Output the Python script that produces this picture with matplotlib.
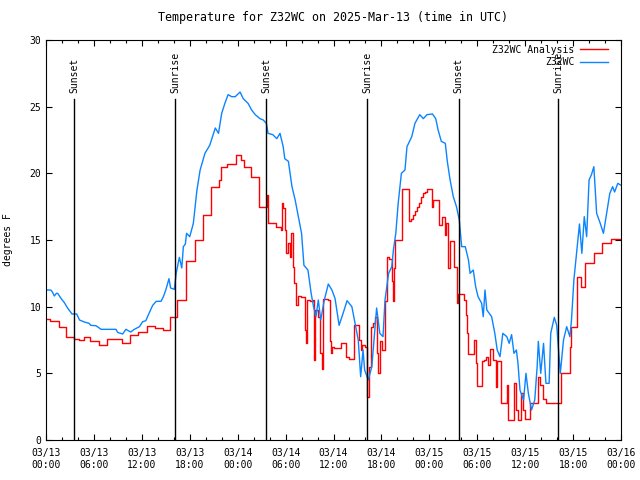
import matplotlib
matplotlib.use("Agg")
import matplotlib.pyplot as plt
import matplotlib.dates as mdates
from datetime import datetime, timedelta

plt.rcParams["font.family"] = "DejaVu Sans Mono"
plt.rcParams["font.size"] = 7

start = datetime(2025, 3, 13)

# Z32WC Analysis (step values: hour since start, deg F)
analysis_hours = [
    0.0, 0.5, 1.6, 2.55, 3.5, 4.1, 4.8, 5.5, 6.6, 7.6, 9.5, 10.5, 11.5, 12.6,
    13.7, 14.7, 15.5, 16.4, 17.5, 18.6, 19.7, 20.7, 21.7, 21.9, 22.7, 23.8,
    24.4, 24.75, 25.7, 26.7, 27.65, 27.75, 28.8, 29.4, 29.5, 29.65, 29.9,
    30.05, 30.25, 30.5, 30.7, 30.9, 31.1, 31.3, 31.6, 31.9, 32.4, 32.55, 32.7,
    33.0, 33.4, 33.55, 33.7, 34.0, 34.3, 34.5, 34.65, 35.0, 35.3, 35.5, 35.65,
    35.75, 36.0, 36.9, 37.6, 38.0, 38.6, 39.2, 39.4, 39.6, 39.9, 40.25, 40.5,
    40.7, 41.0, 41.15, 41.4, 41.55, 41.85, 42.1, 42.5, 42.65, 43.0, 43.3,
    43.45, 43.55, 43.75, 44.55, 45.45, 45.7, 45.95, 46.2, 46.45, 46.7, 46.95,
    47.2, 47.5, 47.7, 48.35, 48.5, 49.2, 49.6, 49.9, 50.1, 50.4, 50.6, 51.05,
    51.5, 51.6, 52.35, 52.55, 52.7, 52.85, 53.6, 53.85, 54.0, 54.65, 54.9,
    55.1, 55.3, 55.6, 56.0, 56.35, 56.5, 57.0, 57.7, 57.9, 58.6, 58.85, 59.05,
    59.5, 59.75, 60.0, 60.6, 61.55, 61.85, 62.2, 62.6, 64.5, 65.6, 65.75,
    66.55, 67.05, 67.55, 68.6, 69.65, 70.7, 72.0,
]
analysis_temps = [
    9.1, 8.9, 8.45, 7.7, 7.6, 7.5, 7.7, 7.4, 7.1, 7.55, 7.3, 7.9, 8.1, 8.55,
    8.4, 8.25, 9.2, 10.5, 13.4, 15.0, 16.9, 18.95, 19.5, 20.45, 20.7, 21.4,
    21.0, 20.5, 19.7, 17.45, 18.4, 16.3, 15.95, 15.75, 17.75, 17.4, 15.75,
    14.0, 14.75, 13.75, 15.5, 13.0, 11.75, 10.1, 10.8, 10.75, 8.25, 7.3, 10.5,
    10.4, 10.5, 6.0, 9.75, 9.25, 6.5, 5.3, 10.6, 10.55, 10.5, 7.4, 6.5,
    7.0, 6.9, 7.3, 6.25, 6.1, 8.6, 7.5, 6.75, 7.1, 7.0, 3.25, 5.5,
    8.5, 8.75, 9.25, 6.5, 5.0, 7.4, 6.75, 10.4, 13.75, 13.6, 11.9,
    10.4, 12.9, 15.0, 18.8, 16.4, 16.6, 16.9, 17.2, 17.5, 17.8, 18.2,
    18.5, 18.6, 18.8, 17.5, 18.0, 16.1, 16.75, 15.4, 16.25, 12.9, 14.9, 12.95,
    10.25, 10.95, 10.5, 9.4, 8.0, 6.45, 7.5, 5.75, 4.05, 5.9, 6.0,
    6.25, 5.6, 6.8, 6.0, 4.0, 5.9, 2.75, 4.1, 1.5, 4.25, 2.25, 1.5,
    3.5, 2.25, 1.6, 2.8, 4.75, 4.1, 3.1, 2.75, 5.0, 7.0, 8.45,
    12.25, 11.45, 13.3, 14.0, 14.8, 15.05, 15.1,
]

# Z32WC observations
obs_hours = [
    0.0, 0.6, 0.8, 1.04, 1.3, 1.46, 1.9, 2.3, 2.7, 3.26, 3.84, 4.2, 4.8, 5.4,
    5.6, 6.26, 6.9, 8.77, 8.97, 9.6, 10.0, 10.6, 11.06, 11.7, 12.1, 12.5,
    12.9, 13.36, 13.8, 14.4, 14.7, 15.0, 15.4, 15.6, 16.07, 16.3, 16.7, 17.0,
    17.2, 17.45, 17.6, 18.0, 18.45, 18.9, 19.3, 19.9, 20.5, 21.2, 21.6, 22.0,
    22.4, 22.8, 23.25, 23.7, 24.3, 24.7, 25.3, 25.75, 26.2, 26.8, 27.2, 27.6,
    27.8, 28.4, 28.9, 29.3, 29.7, 29.9, 30.35, 30.8, 31.2, 31.6, 32.0, 32.3,
    32.8, 33.2, 33.5, 33.8, 34.1, 34.4, 34.85, 35.35, 35.8, 36.2, 36.7, 37.2,
    37.7, 38.3, 38.7, 39.1, 39.4, 39.7, 39.9, 40.35, 40.8, 41.4, 41.8, 42.2,
    42.45, 42.9, 43.3, 43.5, 43.8, 44.1, 44.5, 44.95, 45.2, 45.8, 46.2, 46.8,
    47.25, 47.7, 48.4, 48.8, 49.1, 49.5, 50.0, 50.25, 50.6, 51.0, 51.4, 51.75,
    52.05, 52.5, 52.9, 53.1, 53.5, 53.8, 54.1, 54.55, 54.75, 54.97, 55.2,
    55.8, 56.2, 56.5, 56.85, 57.2, 57.7, 58.0, 58.3, 58.6, 58.9, 59.1, 59.35,
    59.8, 60.1, 60.4, 60.8, 61.2, 61.5, 61.65, 61.95, 62.3, 62.6, 63.0, 63.2,
    63.65, 63.95, 64.15, 64.4, 64.8, 65.2, 65.6, 65.8, 66.1, 66.45, 66.8,
    67.1, 67.4, 67.7, 68.0, 68.3, 68.6, 68.95, 69.4, 69.8, 70.2, 70.6, 70.95,
    71.2, 71.6, 72.0,
]
obs_temps = [
    11.25, 11.25, 11.1, 10.8, 11.0, 11.0, 10.6, 10.3, 9.9, 9.45, 9.45, 9.0,
    8.85, 8.75, 8.6, 8.57, 8.3, 8.3, 8.07, 7.95, 8.3, 8.1, 8.3, 8.5, 8.87,
    8.95, 9.5, 10.1, 10.4, 10.4, 10.75, 11.25, 12.1, 11.4, 11.3, 12.5, 13.7,
    12.9, 14.5, 14.7, 15.5, 15.25, 16.25, 18.75, 20.25, 21.5, 22.1, 23.4,
    23.0, 24.5, 25.25, 25.9, 25.75, 25.75, 26.1, 25.6, 25.25, 24.75, 24.4,
    24.1, 24.0, 23.75, 23.0, 22.9, 22.6, 23.0, 22.0, 21.1, 20.9, 19.0, 18.0,
    16.75, 15.5, 13.1, 12.75, 11.0, 10.0, 9.25, 10.5, 9.0, 10.5, 11.7, 11.25,
    10.6, 8.6, 9.5, 10.45, 10.0, 8.75, 7.5, 4.75, 6.75, 5.25, 4.5, 5.5, 9.9,
    8.0, 7.75, 10.5, 12.5, 13.0, 14.25, 15.5, 17.75, 20.0, 20.25, 22.0,
    22.75, 23.75, 24.4, 24.1, 24.4, 24.45, 24.1, 23.25, 22.4, 22.25, 20.9,
    19.5, 18.25, 17.5, 16.5, 14.5, 14.5, 13.5, 12.5, 12.75, 11.5, 10.75,
    10.25, 9.25, 11.25, 9.75, 9.25, 8.0, 6.75, 6.25, 8.0, 7.75, 7.25, 7.9,
    6.5, 6.75, 5.75, 3.75, 3.0, 5.0, 3.5, 2.25, 3.0, 5.5, 7.4, 5.0, 7.25,
    4.25, 4.25, 8.0, 9.2, 8.6, 7.0, 5.0, 7.5, 8.5, 7.75, 9.0, 12.0, 14.1,
    16.2, 14.0, 16.75, 15.25, 19.5, 19.9, 20.5, 17.0, 16.25, 15.5, 17.0,
    18.5, 19.0, 18.6, 19.25, 19.1,
]

sun_labels = ["Sunset", "Sunrise", "Sunset", "Sunrise", "Sunset", "Sunrise"]
sun_times = ["2025-03-13 03:33", "2025-03-13 16:12", "2025-03-14 03:36",
             "2025-03-14 16:12", "2025-03-15 03:40", "2025-03-15 16:09"]

analysis_t = [start + timedelta(hours=h) for h in analysis_hours]
obs_t = [start + timedelta(hours=h) for h in obs_hours]

fig = plt.figure(figsize=(6.4, 4.8), dpi=100)
ax = fig.add_axes([46 / 640, 40 / 480, 575 / 640, 400 / 480])

ax.plot(analysis_t, analysis_temps, color="#ff0000", lw=1.0,
        drawstyle="steps-post", label="Z32WC Analysis")
ax.plot(obs_t, obs_temps, color="#0a84ff", lw=1.0, label="Z32WC")

# sunrise / sunset markers
for lab, ts in zip(sun_labels, sun_times):
    t = datetime.strptime(ts, "%Y-%m-%d %H:%M")
    ax.plot([t, t], [0, 25.6], color="k", lw=1.0)
    ax.text(t, 26.05, lab, rotation=90, ha="center", va="bottom")

ax.set_xlim(start, start + timedelta(hours=72))
ax.set_ylim(0, 30)
ax.set_yticks(range(0, 31, 5))
ax.xaxis.set_major_locator(mdates.HourLocator(byhour=range(0, 24, 6)))
ax.xaxis.set_minor_locator(mdates.HourLocator(interval=2))
ax.xaxis.set_major_formatter(mdates.DateFormatter("%m/%d\n%H:%M"))
ax.tick_params(which="both", direction="in", top=True, right=True, width=0.8)
ax.tick_params(which="major", length=4)
ax.tick_params(which="minor", length=2)
ax.tick_params(axis="x", pad=6)
for s in ax.spines.values():
    s.set_linewidth(0.8)

ax.set_ylabel("degrees F", labelpad=12)
ax.set_title("Temperature for Z32WC on 2025-Mar-13 (time in UTC)", pad=14)
ax.legend(loc="upper right", frameon=False, markerfirst=False,
          handlelength=2.9, handletextpad=0.6, labelspacing=0.25,
          borderaxespad=0.2, bbox_to_anchor=(0.988, 1.003))

fig.savefig("out.png", dpi=100)
